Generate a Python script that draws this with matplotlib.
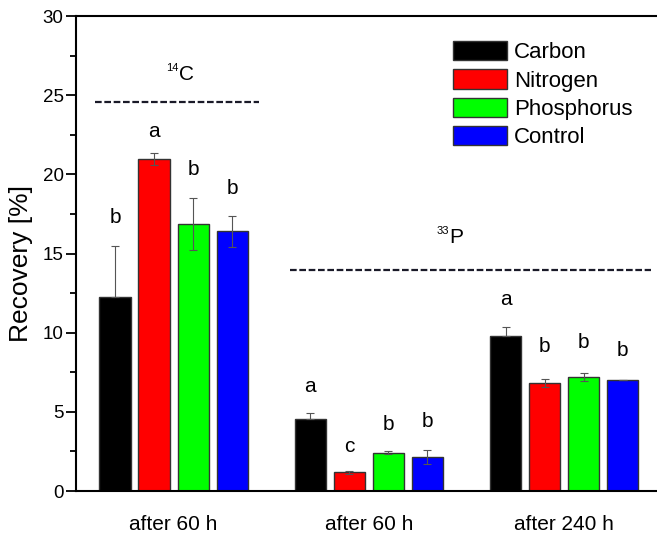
import numpy as np
import matplotlib
matplotlib.use("Agg")
import matplotlib.pyplot as plt

plt.rcParams["font.family"] = ["Liberation Sans", "DejaVu Sans"]

# data
groups = ["after 60 h", "after 60 h", "after 240 h"]
treatments = ["Carbon", "Nitrogen", "Phosphorus", "Control"]
colors = ["#000000", "#ff0000", "#00ff00", "#0000ff"]

carbon = [12.25, 4.55, 9.78]
nitrogen = [21.0, 1.18, 6.85]
phosphorus = [16.88, 2.42, 7.2]
control = [16.4, 2.15, 6.98]

carbon_err = [3.25, 0.4, 0.55]
nitrogen_err = [0.38, 0.08, 0.25]
phosphorus_err = [1.65, 0.1, 0.27]
control_err = [0.98, 0.45, 0.0]

carbon_lbl = ["b", "a", "a"]
nitrogen_lbl = ["a", "c", "b"]
phosphorus_lbl = ["b", "b", "b"]
control_lbl = ["b", "b", "b"]

# height of the significance letters (data units)
carbon_lbl_y = [17.3, 6.6, 12.1]
nitrogen_lbl_y = [22.7, 2.8, 9.1]
phosphorus_lbl_y = [20.3, 4.2, 9.35]
control_lbl_y = [19.1, 4.4, 8.85]

values = [carbon, nitrogen, phosphorus, control]
errors = [carbon_err, nitrogen_err, phosphorus_err, control_err]
letters = [carbon_lbl, nitrogen_lbl, phosphorus_lbl, control_lbl]
letter_y = [carbon_lbl_y, nitrogen_lbl_y, phosphorus_lbl_y, control_lbl_y]

fig = plt.figure(figsize=(6.57, 5.34), dpi=100)
ax = fig.add_axes([0.1157, 0.0805, 0.8885, 0.8895])

x = np.arange(len(groups))
width = 0.16
offsets = [-0.3, -0.1, 0.1, 0.3]

for vals, errs, lbls, ly, col, off, name in zip(values, errors, letters, letter_y,
                                                colors, offsets, treatments):
    ax.bar(x + off, vals, width, color=col, edgecolor="#333333", linewidth=1.0,
           label=name, zorder=2)
    # the lower whisker disappears inside the black bars
    lower = np.zeros(len(errs)) if col == "#000000" else errs
    ax.errorbar(x + off, vals, yerr=[lower, errs], fmt="none", ecolor="#555555",
                elinewidth=0.8, capsize=3, capthick=0.8, zorder=3)
    for xi, t, yy in zip(x + off, lbls, ly):
        ax.text(xi, yy, t, ha="center", va="center", fontsize=15)

# isotope markers: small superscript mass number next to the element letter
ax.plot([-0.405, 0.437], [24.6, 24.6], color="#1a1a28", lw=1.6, dashes=(3, 1.2))
ax.text(0.025, 26.7, "14", ha="right", va="center", fontsize=8)
ax.text(0.025, 26.3, "C", ha="left", va="center", fontsize=15)
ax.plot([0.596, 2.445], [13.98, 13.98], color="#1a1a28", lw=1.6, dashes=(3, 1.2))
ax.text(1.41, 16.4, "33", ha="right", va="center", fontsize=8)
ax.text(1.41, 16.0, "P", ha="left", va="center", fontsize=15)

ax.set_xlim(-0.5, 2.49)
ax.set_ylim(0, 30)
ax.set_xticks(x)
ax.set_xticklabels(groups, fontsize=15)
ax.tick_params(axis="x", length=0, pad=17)
ax.set_yticks(np.arange(0, 31, 5))
ax.set_yticks(np.arange(2.5, 30, 5), minor=True)
ax.tick_params(axis="y", which="major", length=7, width=1.3, labelsize=13.5, pad=2)
ax.tick_params(axis="y", which="minor", length=4, width=1.3)
ax.set_ylabel("Recovery [%]", fontsize=19)
ax.yaxis.set_label_coords(-0.074, 0.48)

for s in ["left", "bottom", "top"]:
    ax.spines[s].set_linewidth(1.5)
ax.spines["right"].set_visible(False)

ax.legend(loc="upper left", bbox_to_anchor=(0.645, 0.947), frameon=False,
          fontsize=16, handlelength=2.45, handleheight=0.95, labelspacing=0.27,
          handletextpad=0.3, borderpad=0, borderaxespad=0)

fig.savefig("out.png", dpi=100)
